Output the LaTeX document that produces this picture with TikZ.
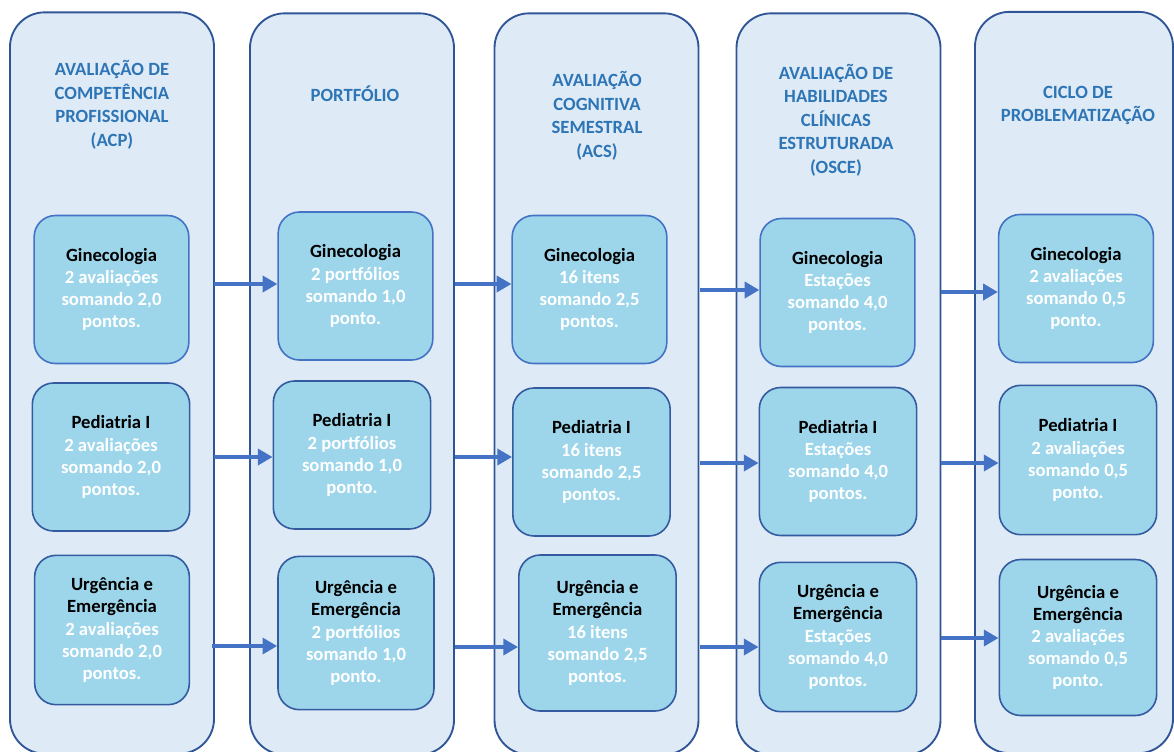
\documentclass[tikz,border=0pt]{standalone}
\usepackage{fontspec}
\setmainfont{Carlito}
\usepackage{xcolor}
\definecolor{ColFill}{RGB}{222,235,247}
\definecolor{ColLine}{RGB}{47,85,151}
\definecolor{BoxFill}{RGB}{157,214,235}
\definecolor{BoxLineA}{RGB}{68,114,196}
\definecolor{BoxLineB}{RGB}{52,90,160}
\definecolor{TitleCol}{RGB}{46,117,182}
\definecolor{ArrowCol}{RGB}{68,114,196}
\usetikzlibrary{arrows.meta}
\newcommand{\Area}[1]{\textcolor{black}{#1}}
\tikzset{Column/.style={rectangle,rounded corners=26pt,draw=ColLine,fill=ColFill,
    line width=1.4pt,minimum width=153pt,minimum height=556pt,inner sep=0pt}}
\tikzset{Title/.style={text=TitleCol,align=center,
    font=\fontsize{14}{17.6}\selectfont\bfseries}}
\tikzset{Item/.style={rectangle,rounded corners=16pt,draw=BoxLineB,fill=BoxFill,
    line width=1.2pt,minimum width=116pt,minimum height=111pt,inner sep=0pt,
    text=white,align=center,font=\fontsize{14}{16.6}\selectfont\bfseries}}
\tikzset{ItemTop/.style={Item,draw=BoxLineA}}
\tikzset{Arrow/.style={draw=ArrowCol,line width=2.6pt,
    -{Triangle[length=11pt,width=12pt]}}}

\begin{document}
\begin{tikzpicture}[x=0.75pt,y=-0.75pt]
    \useasboundingbox(0,0)rectangle(1174,751);
    \clip(0,0)rectangle(1174,751);
    % columns
    \node[Column](acp)at(112,383){};
    \node[Column](port)at(352,384){};
    \node[Column](acs)at(596.5,384){};
    \node[Column](osce)at(838.5,384){};
    \node[Column,minimum width=148.5pt](ciclo)at(1074,382.5){};
    % titles
    \node[Title](tacp)at(112,105){AVALIAÇÃO DE\\COMPETÊNCIA\\PROFISSIONAL\\(ACP)};
    \node[Title](tport)at(355,94){PORTFÓLIO};
    \node[Title](tacs)at(597,116){AVALIAÇÃO\\COGNITIVA\\SEMESTRAL\\(ACS)};
    \node[Title](tosce)at(836,120){AVALIAÇÃO DE\\HABILIDADES\\CLÍNICAS\\ESTRUTURADA\\(OSCE)};
    \node[Title](tciclo)at(1078,105.5){CICLO DE\\PROBLEMATIZAÇÃO};
    % ACP
    \node[ItemTop](gin1)at(111.5,289.5){\Area{Ginecologia}\\2 avaliações\\somando 2,0\\pontos.};
    \node[Item,minimum width=118pt](ped1)at(111,457){\Area{Pediatria I}\\2 avaliações\\somando 2,0\\pontos.};
    \node[Item,minimum height=112pt](urg1)at(112,630){\Area{Urgência e}\\\Area{Emergência}\\2 avaliações\\somando 2,0\\pontos.};
    % portfolio
    \node[ItemTop](gin2)at(355.5,286){\Area{Ginecologia}\\2 portfólios\\somando 1,0\\ponto.};
    \node[Item,minimum width=118pt](ped2)at(352,455){\Area{Pediatria I}\\2 portfólios\\somando 1,0\\ponto.};
    \node[Item,minimum width=117pt,minimum height=115pt](urg2)at(356,633){\Area{Urgência e}\\\Area{Emergência}\\2 portfólios\\somando 1,0\\ponto.};
    % ACS
    \node[ItemTop](gin3)at(589.5,289.5){\Area{Ginecologia}\\16 itens\\somando 2,5\\pontos.};
    \node[Item,minimum width=118pt](ped3)at(591.5,462){\Area{Pediatria I}\\16 itens\\somando 2,5\\pontos.};
    \node[Item,minimum width=118pt,minimum height=117pt](urg3)at(597.5,633){\Area{Urgência e}\\\Area{Emergência}\\16 itens\\somando 2,5\\pontos.};
    % OSCE
    \node[ItemTop](gin4)at(837.5,292.5){\Area{Ginecologia}\\Estações\\somando 4,0\\pontos.};
    \node[Item,minimum width=118pt](ped4)at(838,461.5){\Area{Pediatria I}\\Estações\\somando 4,0\\pontos.};
    \node[Item,minimum width=118pt,minimum height=112pt](urg4)at(838,637){\Area{Urgência e}\\\Area{Emergência}\\Estações\\somando 4,0\\pontos.};
    % ciclo
    \node[ItemTop](gin5)at(1076,288.5){\Area{Ginecologia}\\2 avaliações\\somando 0,5\\ponto.};
    \node[Item,minimum width=118pt,minimum height=112pt](ped5)at(1078,460){\Area{Pediatria I}\\2 avaliações\\somando 0,5\\ponto.};
    \node[Item,minimum width=118pt,minimum height=117pt](urg5)at(1078,637.5){\Area{Urgência e}\\\Area{Emergência}\\2 avaliações\\somando 0,5\\ponto.};
    % arrows
    \coordinate(a1)at(214,284);
    \coordinate(a2)at(214,457);
    \coordinate(a3)at(212,646);
    \coordinate(b1)at(455,284);
    \coordinate(b2)at(455,457);
    \coordinate(b3)at(455,647);
    \coordinate(c1)at(700,290);
    \coordinate(c2)at(700,463);
    \coordinate(c3)at(700,647);
    \coordinate(d1)at(941,292);
    \coordinate(d2)at(941,463);
    \coordinate(d3)at(941,638);
    \draw[Arrow](a1)--(a1-|gin2.west);
    \draw[Arrow](a2)--(a2-|ped2.west);
    \draw[Arrow](a3)--(a3-|urg2.west);
    \draw[Arrow](b1)--(b1-|gin3.west);
    \draw[Arrow](b2)--(b2-|ped3.west);
    \draw[Arrow](b3)--(b3-|urg3.west);
    \draw[Arrow](c1)--(c1-|gin4.west);
    \draw[Arrow](c2)--(c2-|ped4.west);
    \draw[Arrow](c3)--(c3-|urg4.west);
    \draw[Arrow](d1)--(d1-|gin5.west);
    \draw[Arrow](d2)--(d2-|ped5.west);
    \draw[Arrow](d3)--(d3-|urg5.west);
\end{tikzpicture}
\end{document}
